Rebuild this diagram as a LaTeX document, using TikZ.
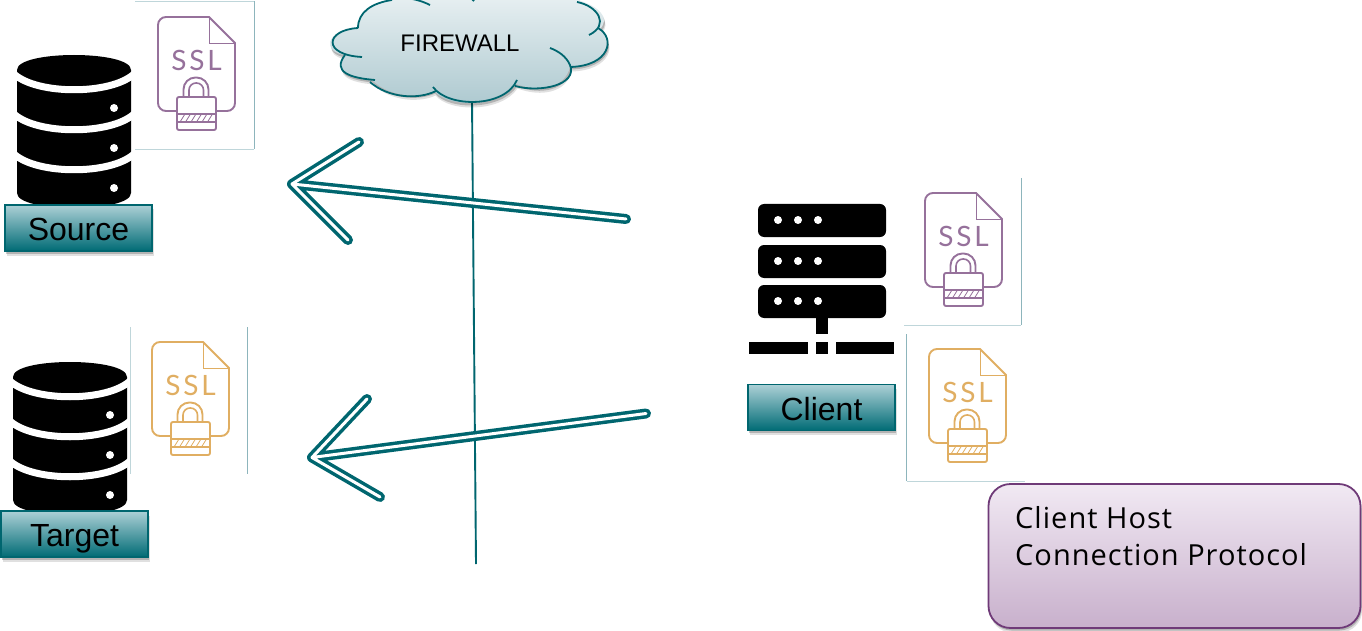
\documentclass[tikz,border=0pt]{standalone}
\usepackage{fontspec}
\usepackage{xcolor}
\usepackage{tikz}
\usetikzlibrary{shadows}
\setmainfont{Liberation Sans}
\newfontfamily\hostfont{Open Sans}[LetterSpace=3.5]
\newfontfamily\sslfont{Lato}[LetterSpace=10]
\definecolor{wallteal}{HTML}{00666F}
\definecolor{boxtop}{HTML}{ACD0D6}
\definecolor{boxmid}{HTML}{93BEC5}
\definecolor{boxbottom}{HTML}{006B75}
\definecolor{cloudtop}{HTML}{E8F0F2}
\definecolor{cloudbottom}{HTML}{ACC8CF}
\definecolor{hosttop}{HTML}{F1E9F3}
\definecolor{hostbottom}{HTML}{C8B0CC}
\definecolor{hostline}{HTML}{6F3A78}
\definecolor{sslpurple}{HTML}{96719B}
\definecolor{sslyellow}{HTML}{E0AE62}
\definecolor{framelight}{HTML}{BFD6DA}
\definecolor{framedark}{HTML}{8DB5BC}
\newcommand*\dotrad{4pt}
\tikzset{
    softshadow/.style = {
        drop shadow={shadow xshift=1.5pt,shadow yshift=-4.5pt,opacity=.12,fill=black},
        drop shadow={shadow xshift=1pt,shadow yshift=-2.5pt,opacity=.2,fill=black}},
    labelbox/.style = {draw=wallteal,line width=1.5pt,softshadow,
                    top color=boxtop,middle color=boxmid,bottom color=boxbottom,
                    minimum width=147pt,minimum height=46pt,inner sep=0pt,outer sep=0pt,
                    text height=35.5pt,text depth=10.5pt,
                    font=\fontsize{32}{32}\selectfont},
    hostbox/.style = {draw=hostline,line width=1.8pt,rounded corners=22pt,softshadow,
                    top color=hosttop,bottom color=hostbottom,
                    minimum width=372pt,minimum height=144pt,outer sep=0pt},
    hosttext/.style = {align=left,inner sep=0pt,font=\hostfont\fontsize{29}{37}\selectfont},
    wallline/.style = {wallteal,line width=1.9pt},
    cloudedge/.style = {wallteal,line width=1.8pt},
    arrowline/.style = {wallteal,line width=3.5pt,double=white,double distance=3pt,
                    line cap=round,line join=round},
    framethin/.style = {line width=.9pt},
    pics/sslicon/.style = {code={
        % page with folded corner
        \draw[#1,line width=1.9pt] (19,94) [rounded corners=8pt] -- (0,94) -- (0,0)
            [sharp corners] -- (51,0) -- (77,26) [rounded corners=8pt] -- (77,94) -- (58,94);
        \draw[#1,line width=.9pt] (51,0) -- (51,26) -- (77,26);
        \node[#1,inner sep=0pt,font=\sslfont\fontsize{28}{28}\selectfont] (-ssl) at (38.5,43.5) {SSL};
        % padlock
        \draw[#1,line width=1.9pt,rounded corners=2pt] (19,80) rectangle (58,113);
        \draw[#1,line width=1.7pt] (19,97) -- (58,97) (19,105) -- (58,105);
        \foreach \hx in {22,27.5,...,50} {
            \draw[#1,line width=.8pt] (\hx,105) -- (\hx+5,97);
        }
        \draw[#1,line width=1.9pt,rounded corners=12pt] (25.5,80) -- (25.5,60.5) -- (50.5,60.5) -- (50.5,80);
        \draw[#1,line width=1.6pt,rounded corners=7pt] (31,80) -- (31,66) -- (45.5,66) -- (45.5,80);
    }},
    pics/dbicon/.style = {code={
        \fill[black] (0,15) .. controls (0,-5) and (114,-5) .. (114,15)
            -- (114,138) .. controls (114,158) and (0,158) .. (0,138) -- cycle;
        % white bands between the disks
        \foreach \by in {19,59,99} {
            \draw[white,line width=7pt] (-3,\by) .. controls (20,\by+21) and (94,\by+21) .. (117,\by);
        }
        \foreach \dy in {53,93,133} {
            \fill[white] (97,\dy) circle (\dotrad);
        }
    }},
}
\begin{document}
\begin{tikzpicture}[x=1pt,y=-1pt]
    \useasboundingbox (0,0) rectangle (1362,631);

    % Firewall line, drawn first so that cloud and arrows stay on top
    \coordinate (wallbase) at (472,100);
    \coordinate (wallend) at (476,564);
    \draw[wallline] (wallbase) -- (wallend);

    % Cloud: fill first, then each lobe with its small hook
    \path[softshadow,top color=cloudtop,bottom color=cloudbottom]
        (358,28) .. controls (325,30) and (322,52) .. (345,55)
        .. controls (332,72) and (350,78) .. (372,80)
        .. controls (390,98) and (420,98) .. (434,91)
        .. controls (448,108) and (500,108) .. (516,84)
        .. controls (540,93) and (565,88) .. (570,67)
        .. controls (610,66) and (616,38) .. (599,30)
        .. controls (612,18) and (598,6) .. (578,0)
        -- (578,-6) -- (392,-6) -- (392,0)
        .. controls (372,3) and (358,12) .. (358,28) -- cycle;
    \draw[cloudedge] (358,28) .. controls (325,30) and (322,55) .. (362,57);
    \draw[cloudedge] (345,55) .. controls (332,72) and (350,78) .. (375,80);
    \draw[cloudedge] (370,82) .. controls (388,98) and (418,100) .. (436,91);
    \draw[cloudedge] (433,87) .. controls (448,108) and (505,108) .. (517,80);
    \draw[cloudedge] (515,86) .. controls (540,93) and (578,85) .. (570,65)
        .. controls (566,56) and (558,51) .. (550,48);
    \draw[cloudedge] (570,67) .. controls (610,66) and (616,38) .. (598,28);
    \draw[cloudedge] (589,35) .. controls (610,25) and (598,6) .. (577,2);
    \draw[cloudedge] (358,28) .. controls (358,12) and (372,3) .. (392,0);
    \draw[cloudedge] (405,-2) .. controls (416,-1) and (424,2) .. (430,5);
    \draw[cloudedge] (470,-3) -- (474,1);
    \node[font=\fontsize{24}{24}\selectfont] (firewall) at (460,43) {FIREWALL};

    % Databases with their labels
    \pic at (17,55) {dbicon};
    \pic at (13,362) {dbicon};
    \node[labelbox] (source) at (78.5,228) {Source};
    \node[labelbox] (target) at (74.5,534) {Target};

    % Client server
    \foreach \ry in {204,245,285} {
        \fill[black,rounded corners=6pt] (758,\ry) rectangle (886,\ry+33);
        \foreach \rx in {778,798,818} {
            \fill[white] (\rx,\ry+16) circle (\dotrad);
        }
    }
    \fill[black] (816,317) rectangle (828,334);
    \fill[black] (749,342) rectangle (808,354);
    \fill[black] (816,342) rectangle (828,354);
    \fill[black] (836,342) rectangle (894,354);
    \node[labelbox] (client) at (821.5,407.5) {Client};

    % Certificates and the thin frames left around them
    \pic (sourcessl) at (158,17) {sslicon=sslpurple};
    \pic (targetssl) at (152,342) {sslicon=sslyellow};
    \pic (clientssla) at (925,193) {sslicon=sslpurple};
    \pic (clientsslb) at (929,349) {sslicon=sslyellow};
    \draw[framethin,framelight] (135,1.5) -- (254,1.5);
    \draw[framethin,framelight] (135,149) -- (254,149);
    \draw[framethin,framedark] (254,1.5) -- (254,149);
    \draw[framethin,framelight] (130.5,327) -- (130.5,474);
    \draw[framethin,framedark] (247.5,327) -- (247.5,474);
    \draw[framethin,framedark] (1021,178) -- (1021,325);
    \draw[framethin,framelight] (904,325) -- (1021,325);
    \draw[framethin,framedark] (906.5,334) -- (906.5,481);
    \draw[framethin,framelight] (906.5,481) -- (1025,481);

    % Arrows towards the databases
    \coordinate (tipsource) at (292,184);
    \coordinate (tailsource) at (626,219);
    \coordinate (barbsourcea) at (359,142);
    \coordinate (barbsourceb) at (348,240);
    \draw[arrowline] (tailsource) -- (tipsource) (barbsourcea) -- (tipsource) -- (barbsourceb);
    \coordinate (tiptarget) at (312,457.5);
    \coordinate (tailtarget) at (646,413.5);
    \coordinate (barbtargeta) at (367,399);
    \coordinate (barbtargetb) at (380,497);
    \draw[arrowline] (tailtarget) -- (tiptarget) (barbtargeta) -- (tiptarget) -- (barbtargetb);

    % Protocol note
    \node[hostbox] (host) at (1174.5,556) {};
    \node[hosttext,anchor=north west] (hostlabel) at (1015,506) {Client Host\\Connection Protocol};
\end{tikzpicture}
\end{document}
